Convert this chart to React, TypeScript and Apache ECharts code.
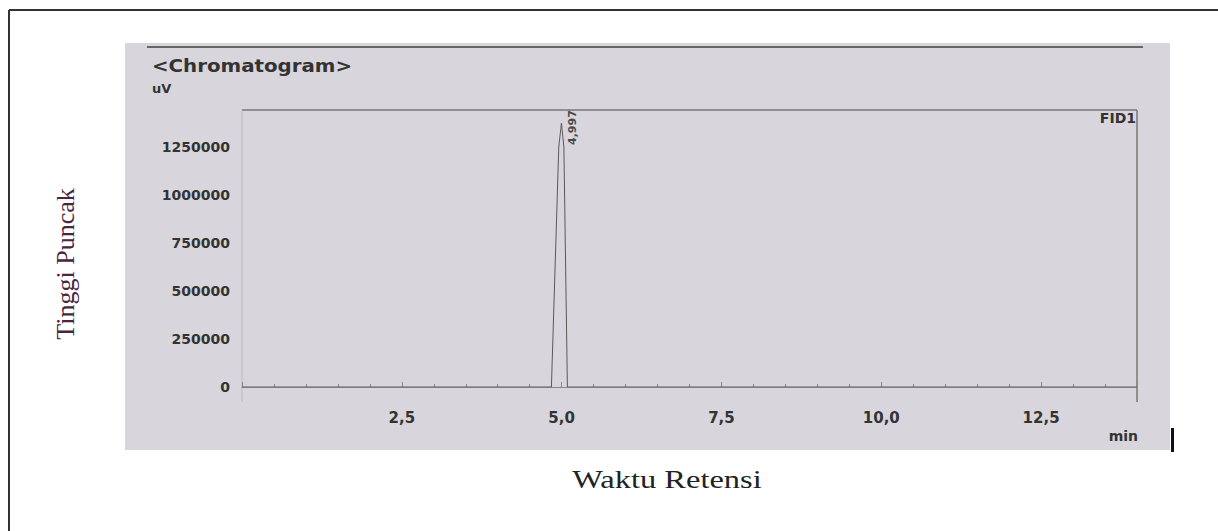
import React, { useEffect, useRef } from "react";
import * as echarts from "echarts";

// Chromatogram trace (retention time in min, detector signal in uV)
const retentionTimes = [0, 4.84, 4.955, 4.997, 5.035, 5.09, 14];
const signal = [0, 0, 1250000, 1375000, 1250000, 0, 0];
const peakTime = 4.997;
const peakLabel = "4,997";

const title = "<Chromatogram>";
const unitLabel = "uV";
const detectorLabel = "FID1";
const xUnit = "min";
const yTitle = "Tinggi Puncak";
const xTitle = "Waktu Retensi";

const fmtComma = (v: number) => v.toFixed(1).replace(".", ",");

export default function App() {
  const ref = useRef<HTMLDivElement>(null);
  useEffect(() => {
    if (!ref.current) return;
    const chart = echarts.init(ref.current, undefined, { renderer: "svg" });
    const data = retentionTimes.map((t, i) => [t, signal[i]]);
    const peakIndex = retentionTimes.indexOf(peakTime);
    chart.setOption({
      animation: false,
      backgroundColor: "#ffffff",
      grid: { left: 242, right: 81, top: 110, bottom: 144 },
      xAxis: {
        type: "value",
        min: 0,
        max: 14,
        interval: 2.5,
        offset: 15,
        axisLine: { show: true, lineStyle: { color: "#888", width: 1 } },
        axisTick: { show: true, inside: true, length: 5, lineStyle: { color: "#888" } },
        minorTick: { show: true, splitNumber: 5, length: 3, lineStyle: { color: "#888" } },
        splitLine: { show: false },
        axisLabel: {
          showMinLabel: false,
          showMaxLabel: false,
          margin: 8,
          fontFamily: "DejaVu Sans",
          fontWeight: "bold",
          fontSize: 15,
          color: "#333",
          formatter: (v: number) => fmtComma(v),
        },
      },
      yAxis: {
        type: "value",
        min: 0,
        max: 1442708,
        interval: 250000,
        axisLine: { show: false },
        axisTick: { show: false },
        splitLine: { show: false },
        axisLabel: {
          showMaxLabel: false,
          margin: 12,
          fontFamily: "DejaVu Sans",
          fontWeight: "bold",
          fontSize: 14,
          color: "#333",
          formatter: (v: number) => String(v),
        },
      },
      series: [
        {
          type: "line",
          data,
          showSymbol: false,
          lineStyle: { color: "#5a5a5a", width: 1 },
          z: 5,
        },
        {
          type: "scatter",
          data: [[retentionTimes[peakIndex], signal[peakIndex]]],
          symbolSize: 0,
          silent: true,
          z: 6,
          label: {
            show: true,
            formatter: peakLabel,
            rotate: 90,
            position: [11, 22],
            align: "left",
            verticalAlign: "middle",
            fontFamily: "DejaVu Sans",
            fontWeight: "bold",
            fontSize: 11,
            color: "#222",
          },
        },
      ],
      graphic: [
        { type: "rect", z: -10, shape: { x: 125, y: 43, width: 1045, height: 407 }, style: { fill: "#d8d5dc" } },
        { type: "line", z: -5, shape: { x1: 147, y1: 47, x2: 1143, y2: 47 }, style: { stroke: "#666", lineWidth: 2 } },
        { type: "line", z: -5, shape: { x1: 242, y1: 110, x2: 1137, y2: 110 }, style: { stroke: "#777", lineWidth: 1.5 } },
        { type: "line", z: -5, shape: { x1: 1137, y1: 110, x2: 1137, y2: 402 }, style: { stroke: "#777", lineWidth: 1.5 } },
        { type: "line", z: -5, shape: { x1: 242, y1: 110, x2: 242, y2: 402 }, style: { stroke: "#bdbac2", lineWidth: 1 } },
        { type: "line", z: 10, shape: { x1: 9, y1: 10, x2: 1218, y2: 10 }, style: { stroke: "#333", lineWidth: 2 } },
        { type: "line", z: 10, shape: { x1: 9, y1: 10, x2: 9, y2: 531 }, style: { stroke: "#333", lineWidth: 2 } },
        { type: "rect", z: 10, shape: { x: 1171, y: 428, width: 3, height: 24 }, style: { fill: "#111" } },
        {
          type: "text", z: 10, x: 152, y: 65, scaleX: 1.1,
          style: { text: title, fontFamily: "DejaVu Sans", fontWeight: "bold", fontSize: 18, fill: "#333", verticalAlign: "middle", align: "left" },
        },
        {
          type: "text", z: 10, x: 152, y: 88,
          style: { text: unitLabel, fontFamily: "DejaVu Sans", fontWeight: "bold", fontSize: 13, fill: "#333", verticalAlign: "middle", align: "left" },
        },
        {
          type: "text", z: 10, x: 1136, y: 118,
          style: { text: detectorLabel, fontFamily: "DejaVu Sans", fontWeight: "bold", fontSize: 14, fill: "#333", verticalAlign: "middle", align: "right" },
        },
        {
          type: "text", z: 10, x: 1138, y: 436,
          style: { text: xUnit, fontFamily: "DejaVu Sans", fontWeight: "bold", fontSize: 14, fill: "#333", verticalAlign: "middle", align: "right" },
        },
        {
          type: "text", z: 10, x: 65, y: 264, rotation: Math.PI / 2,
          style: { text: yTitle, fontFamily: "Liberation Serif", fontSize: 26, fill: "#4a2540", verticalAlign: "middle", align: "center" },
        },
        {
          type: "text", z: 10, x: 667, y: 479, scaleX: 1.3,
          style: { text: xTitle, fontFamily: "Liberation Serif", fontSize: 25, fill: "#222", verticalAlign: "middle", align: "center" },
        },
      ],
    });
    return () => chart.dispose();
  }, []);
  return (
    <div
      ref={ref}
      style={{ position: "absolute", left: 0, top: 0, width: 1218, height: 531 }}
    />
  );
}
